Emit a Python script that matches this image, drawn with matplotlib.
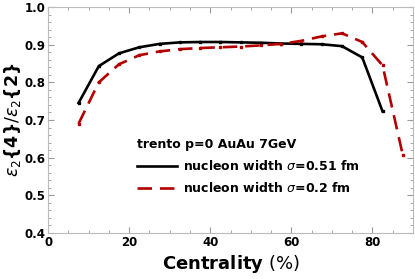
import numpy as np
import matplotlib.pyplot as plt
from matplotlib.lines import Line2D
from matplotlib.ticker import MultipleLocator

# centrality bins (%)
cent_w051 = [7.5, 12.5, 17.5, 22.5, 27.5, 32.5, 37.5, 42.5, 47.5, 52.5, 57.5, 62.5, 67.5, 72.5, 77.5, 82.5]
ratio_w051 = [0.745, 0.843, 0.877, 0.893, 0.902, 0.906, 0.907, 0.907, 0.906, 0.905, 0.903, 0.902, 0.901, 0.896, 0.866, 0.723]

cent_w02 = [7.5, 12.5, 17.5, 22.5, 27.5, 32.5, 37.5, 42.5, 47.5, 52.5, 57.5, 62.5, 67.5, 72.5, 77.5, 82.5, 87.5]
ratio_w02 = [0.690, 0.800, 0.848, 0.872, 0.882, 0.888, 0.891, 0.893, 0.895, 0.898, 0.902, 0.910, 0.922, 0.930, 0.907, 0.845, 0.607]

black = 'black'
red = '#b30000'
dash = (0, (5.5, 3))

fig = plt.figure(figsize=(4.15, 2.79), dpi=100)
ax = fig.add_axes([0.116, 0.165, 0.879, 0.81])

ax.plot(cent_w051, ratio_w051, color=black, lw=1.9, marker='s', ms=2.0)
ax.plot(cent_w02, ratio_w02, color=red, lw=1.9, ls=dash, marker='s', ms=2.0)

ax.set_xlim(0, 90)
ax.set_ylim(0.4, 1.0)
ax.xaxis.set_major_locator(MultipleLocator(20))
ax.xaxis.set_minor_locator(MultipleLocator(5))
ax.yaxis.set_major_locator(MultipleLocator(0.1))
ax.yaxis.set_minor_locator(MultipleLocator(0.02))
ax.tick_params(which='both', direction='in', top=True, right=True, color='#999999')
ax.tick_params(which='major', length=4, labelsize=8.5, pad=2, labelcolor='black')
ax.tick_params(which='minor', length=2)
for lab in ax.get_xticklabels() + ax.get_yticklabels():
    lab.set_fontweight('bold')
for s in ax.spines.values():
    s.set_color('#bbbbbb')

ax.set_xlabel(r'$\mathbf{Centrality}$ (%)', fontsize=13, labelpad=3)
ax.set_ylabel(r'$\varepsilon_2\mathbf{\{4\}}/\varepsilon_2\mathbf{\{2\}}$', fontsize=12.5, labelpad=1)

handles = [Line2D([], [], color=black, lw=1.9),
           Line2D([], [], color=red, lw=1.9, ls=dash)]
labels = [r'nucleon width $\sigma$=0.51 fm', r'nucleon width $\sigma$=0.2 fm']
ax.legend(handles, labels, loc='upper left', bbox_to_anchor=(0.213, 0.47), frameon=False,
          title='trento p=0 AuAu 7GeV', title_fontproperties={'weight': 'bold', 'size': 9},
          prop={'weight': 'bold', 'size': 9}, handlelength=3.2, handletextpad=0.5,
          labelspacing=0.65, alignment='left')

plt.savefig('out.png', dpi=100)
